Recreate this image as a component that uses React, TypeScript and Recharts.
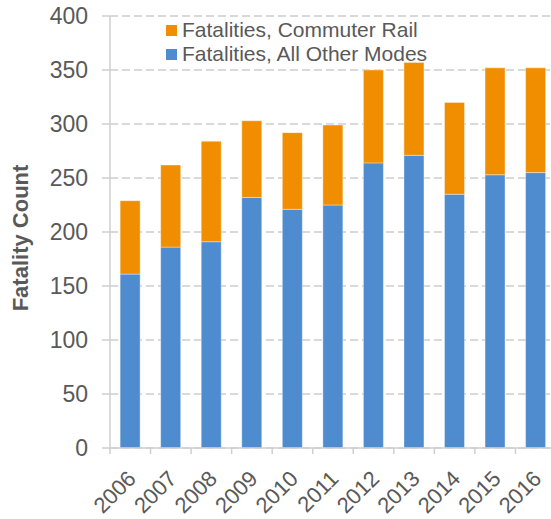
import { BarChart, Bar, XAxis, YAxis, CartesianGrid, Legend } from 'recharts';

const years = ['2006', '2007', '2008', '2009', '2010', '2011', '2012', '2013', '2014', '2015', '2016'];
const otherModes = [161, 186, 191, 232, 221, 225, 264, 271, 235, 253, 255];
const commuterRail = [68, 76, 93, 71, 71, 74, 86, 86, 85, 99, 97];
const yTicks = [0, 50, 100, 150, 200, 250, 300, 350, 400];

const legendItems = [
  { label: 'Fatalities, Commuter Rail', color: '#F08E00' },
  { label: 'Fatalities, All Other Modes', color: '#4F8BCF' },
];

const FONT = '"Liberation Sans", Arial, sans-serif';
const TEXT = '#595959';
const AXIS = '#cfcfcf';

const data = years.map((year, i) => ({
  year,
  other: otherModes[i],
  commuter: commuterRail[i],
}));

// year label plus Excel-style tick marks between categories
function YearTick({ x, y, payload, index, width }: any) {
  const half = payload.offset || width / years.length / 2;
  const last = index === years.length - 1;
  return (
    <g>
      <line x1={x - half} x2={x - half} y1={y} y2={y + 6} stroke={AXIS} strokeWidth={1.5} />
      {last && <line x1={x + half} x2={x + half} y1={y} y2={y + 6} stroke={AXIS} strokeWidth={1.5} />}
      <g transform={`translate(${x + 7},${y + 32})`}>
        <text textAnchor="end" transform="rotate(-45)" fill={TEXT} fontSize={22} fontFamily={FONT}>
          {payload.value}
        </text>
      </g>
    </g>
  );
}

function AxisTitle() {
  return (
    <text
      x={20}
      y={238}
      transform="rotate(-90 20 238)"
      textAnchor="middle"
      dominantBaseline="central"
      fill={TEXT}
      fontSize={22}
      fontWeight="bold"
      fontFamily={FONT}
    >
      Fatality Count
    </text>
  );
}

function LegendBox() {
  return (
    <div style={{ fontFamily: FONT, fontSize: 21, color: TEXT }}>
      {legendItems.map((item) => (
        <div key={item.label} style={{ display: 'flex', alignItems: 'center', height: 24 }}>
          <span style={{ width: 11, height: 11, background: item.color, marginRight: 5 }} />
          <span>{item.label}</span>
        </div>
      ))}
    </div>
  );
}

export default function App() {
  return (
    <div style={{ position: 'absolute', left: 0, top: 0, width: 551, height: 519, overflow: 'hidden', background: '#fff' }}>
      <BarChart
        width={560}
        height={519}
        data={data}
        margin={{ top: 16, right: 4, left: 0, bottom: 0 }}
        barCategoryGap="25%"
      >
        <CartesianGrid vertical={false} stroke="#d9d9d9" strokeWidth={2} strokeDasharray="8 4" />
        <XAxis
          dataKey="year"
          height={71}
          stroke={AXIS}
          strokeWidth={1.5}
          tickLine={false}
          tickSize={0}
          tickMargin={0}
          interval={0}
          tick={<YearTick />}
        />
        <YAxis
          width={110}
          domain={[0, 400]}
          ticks={yTicks}
          tickSize={8}
          tickMargin={14}
          stroke={AXIS}
          strokeWidth={1.5}
          tick={{ fill: TEXT, fontSize: 23, fontFamily: FONT }}
          label={<AxisTitle />}
        />
        <Legend
          layout="horizontal"
          verticalAlign="middle"
          align="center"
          content={<LegendBox />}
          wrapperStyle={{ position: 'absolute', left: 166, top: 18, width: 'auto' }}
        />
        <Bar dataKey="other" stackId="a" fill="#4F8BCF" stroke="#ffffff" strokeWidth={0.75} strokeOpacity={0.5} isAnimationActive={false} />
        <Bar dataKey="commuter" stackId="a" fill="#F08E00" stroke="#ffffff" strokeWidth={0.75} strokeOpacity={0.5} isAnimationActive={false} />
      </BarChart>
    </div>
  );
}
